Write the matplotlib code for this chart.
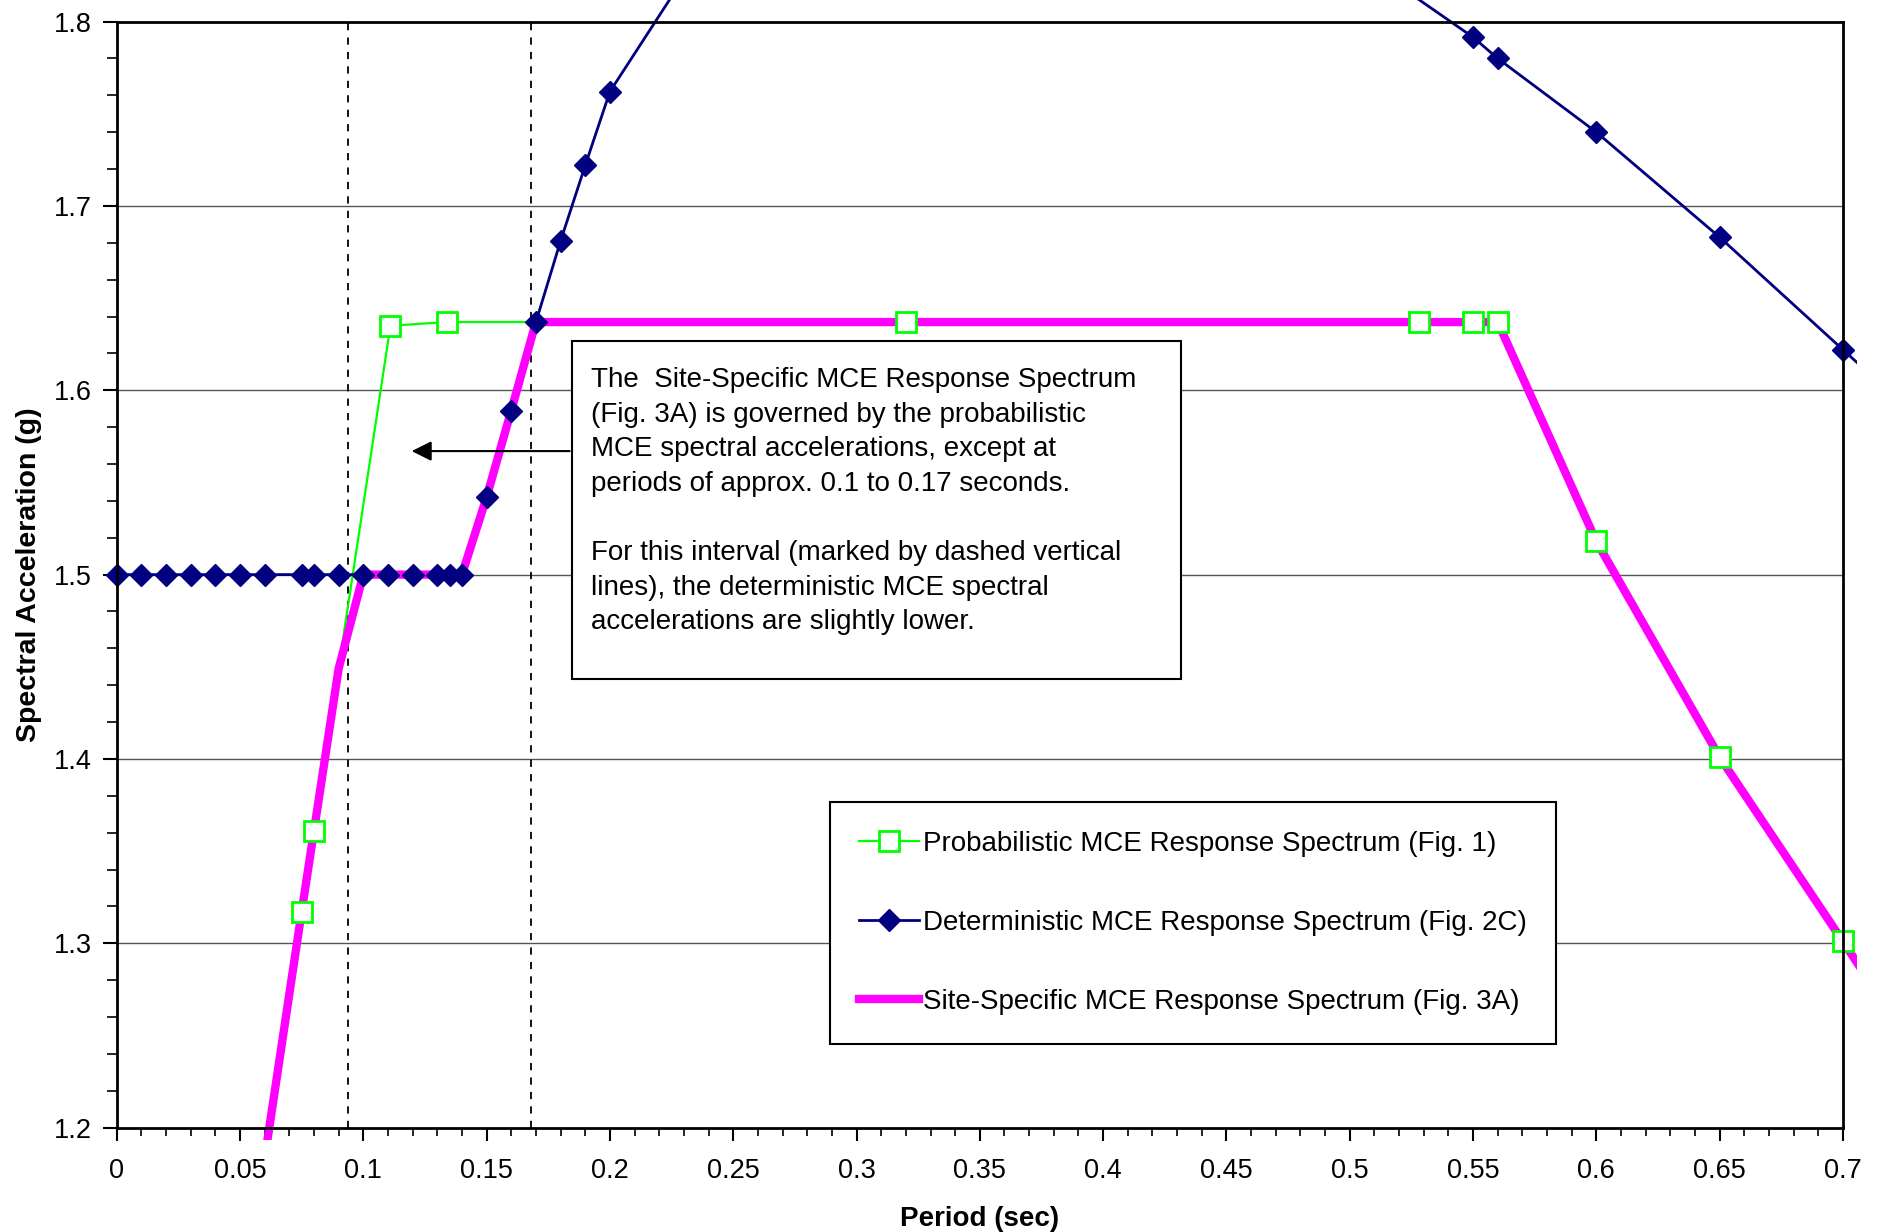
import matplotlib
matplotlib.use("Agg")
import matplotlib.pyplot as plt
from matplotlib.patches import Rectangle
from matplotlib.transforms import Bbox, TransformedBbox
import numpy as np

plt.rcParams['font.family'] = ['Liberation Sans', 'DejaVu Sans']

# probabilistic MCE spectrum (Fig. 1)
prob_T = [0.05, 0.075, 0.08, 0.111, 0.134, 0.32, 0.528, 0.55, 0.56, 0.6, 0.65, 0.7, 0.75]
prob_Sa = [1.094, 1.317, 1.361, 1.635, 1.637, 1.637, 1.637, 1.637, 1.637, 1.518, 1.401, 1.301, 1.20]

# deterministic MCE spectrum (Fig. 2C)
det_T = [0.0, 0.01, 0.02, 0.03, 0.04, 0.05, 0.06, 0.075, 0.08, 0.09, 0.1, 0.11, 0.12, 0.13,
         0.135, 0.14, 0.15, 0.16, 0.17, 0.18, 0.19, 0.2, 0.25, 0.3, 0.4, 0.5, 0.55, 0.56,
         0.6, 0.65, 0.7, 0.75]
det_Sa = [1.5, 1.5, 1.5, 1.5, 1.5, 1.5, 1.5, 1.5, 1.5, 1.5, 1.5, 1.5, 1.5, 1.5,
          1.5, 1.5, 1.542, 1.589, 1.637, 1.681, 1.722, 1.762, 1.865, 1.88, 1.87, 1.838, 1.7915, 1.780,
          1.740, 1.683, 1.622, 1.561]
det_markers = det_T[:22] + det_T[26:31]
det_markers_Sa = det_Sa[:22] + det_Sa[26:31]

# site-specific MCE spectrum (Fig. 3A)
site_T = [0.05, 0.075, 0.08, 0.09, 0.1, 0.14, 0.15, 0.16, 0.17, 0.56, 0.6, 0.65, 0.7, 0.75]
site_Sa = [1.094, 1.317, 1.361, 1.449, 1.5, 1.5, 1.542, 1.589, 1.637, 1.637, 1.518, 1.401, 1.301, 1.20]

interval = [0.094, 0.168]

xticks = np.arange(0, 0.7001, 0.05)
xlabels = ['0', '0.05', '0.1', '0.15', '0.2', '0.25', '0.3', '0.35', '0.4', '0.45',
           '0.5', '0.55', '0.6', '0.65', '0.7']
yticks = [1.2, 1.3, 1.4, 1.5, 1.6, 1.7, 1.8]

green = '#00ff00'
navy = '#000080'
magenta = '#ff00ff'

fig = plt.figure(figsize=(18.85, 12.32), dpi=100)
ax = fig.add_axes([0.0619, 0.0847, 0.9158, 0.8978])

clip = TransformedBbox(Bbox([[-0.012, -0.011], [1.0084, 1.02]]), ax.transAxes)

for y in yticks[1:-1]:
    ax.axhline(y, color='#555555', lw=1.0, zorder=1)
for x in interval:
    ax.axvline(x, color='black', lw=1.3, ls=(0, (4, 4)), zorder=1)

lines = []
lines += ax.plot(prob_T, prob_Sa, color=green, lw=1.6, zorder=2)
lines += ax.plot(det_T, det_Sa, color=navy, lw=2.0, zorder=2)
lines += ax.plot(site_T, site_Sa, color=magenta, lw=6, zorder=3, solid_capstyle='butt')
lines += ax.plot(prob_T[1:12], prob_Sa[1:12], ls='none', marker='s', ms=14, mfc='white',
                 mec=green, mew=2, zorder=4)
lines += ax.plot(det_markers, det_markers_Sa, ls='none', marker='D', ms=11.5,
                 mfc=navy, mec=navy, zorder=5)
for ln in lines:
    ln.set_clip_box(clip)

ax.set_xlim(0, 0.7)
ax.set_ylim(1.2, 1.8)
ax.set_xticks(xticks)
ax.set_xticklabels(xlabels)
ax.set_xticks(np.arange(0, 0.7001, 0.01), minor=True)
ax.set_yticks(yticks)
ax.set_yticklabels(['%.1f' % v for v in yticks])
ax.set_yticks(np.arange(1.2, 1.8001, 0.02), minor=True)
ax.tick_params(axis='x', which='major', length=9, width=1.5, pad=13, labelsize=19.5)
ax.tick_params(axis='x', which='minor', length=6, width=1.2)
ax.tick_params(axis='y', which='major', length=10, width=1.5, pad=8, labelsize=19.5)
ax.tick_params(axis='y', which='minor', length=7, width=1.2)
for s in ax.spines.values():
    s.set_linewidth(2)
    s.set_zorder(6)

ax.set_xlabel('Period (sec)', fontsize=20, fontweight='bold', labelpad=16)
ax.set_ylabel('Spectral Acceleration (g)', fontsize=20.5, fontweight='bold', labelpad=8)

# annotation box
ax.add_patch(Rectangle((0.1848, 1.4433), 0.4314 - 0.1848, 1.6265 - 1.4433,
                       facecolor='white', edgecolor='black', lw=1.5, zorder=7))
note = ("The  Site-Specific MCE Response Spectrum\n"
        "(Fig. 3A) is governed by the probabilistic\n"
        "MCE spectral accelerations, except at\n"
        "periods of approx. 0.1 to 0.17 seconds.\n"
        "\n"
        "For this interval (marked by dashed vertical\n"
        "lines), the deterministic MCE spectral\n"
        "accelerations are slightly lower.")
ax.text(0.1925, 1.6125, note, fontsize=20, va='top', ha='left', linespacing=1.43, zorder=8)
ax.annotate('', xy=(0.1185, 1.567), xytext=(0.1848, 1.567),
            arrowprops=dict(arrowstyle='-|>', color='black', lw=1.5, mutation_scale=30),
            zorder=8)

# legend
h1 = plt.Line2D([], [], color=green, lw=1.6, marker='s', ms=14, mfc='white', mec=green, mew=2)
h2 = plt.Line2D([], [], color=navy, lw=2.0, marker='D', ms=11.5, mfc=navy, mec=navy)
h3 = plt.Line2D([], [], color=magenta, lw=6)
leg = ax.legend([h1, h2, h3],
                ['Probabilistic MCE Response Spectrum (Fig. 1)',
                 'Deterministic MCE Response Spectrum (Fig. 2C)',
                 'Site-Specific MCE Response Spectrum (Fig. 3A)'],
                loc='upper left', bbox_to_anchor=(0.413, 0.2946), borderaxespad=0,
                fontsize=20, frameon=True, fancybox=False, framealpha=1,
                edgecolor='black', handlelength=2.15, handletextpad=0.15,
                labelspacing=1.9, borderpad=1.05)
leg.get_frame().set_linewidth(1.5)
leg.set_zorder(9)

fig.savefig('out.png', dpi=100)
